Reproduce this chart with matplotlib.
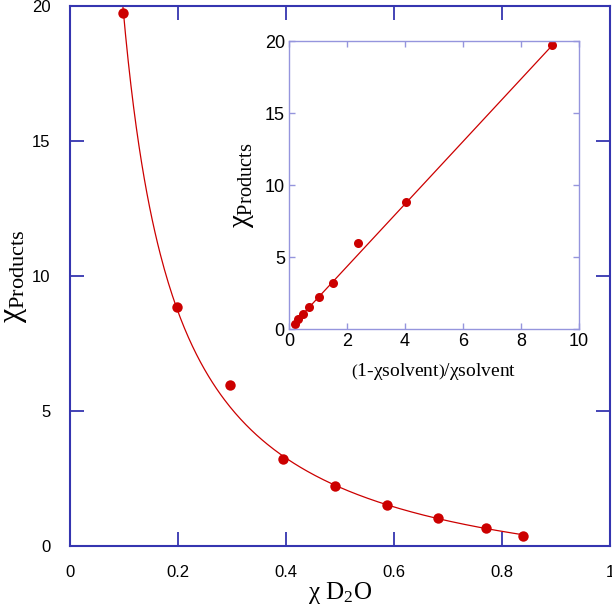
import numpy as np
import matplotlib
matplotlib.use("Agg")
import matplotlib.pyplot as plt

plt.rcParams['font.family'] = ['Liberation Sans', 'DejaVu Sans']
plt.rcParams['mathtext.fontset'] = 'custom'
plt.rcParams['mathtext.rm'] = 'Liberation Serif'
plt.rcParams['mathtext.it'] = 'Liberation Serif'

# mole fraction of D2O vs product ratio
x_d2o = [0.098, 0.198, 0.296, 0.394, 0.491, 0.587, 0.681, 0.770, 0.838]
chi_products = [19.73, 8.84, 5.95, 3.21, 2.22, 1.51, 1.03, 0.66, 0.36]

# inset: (1-x)/x for the same points
ratio_solvent = [9.08, 4.03, 2.38, 1.52, 1.02, 0.70, 0.47, 0.30, 0.19]

# slope of the linear fit through the origin
fit_slope = 2.17

RED = '#cc0000'
BLUE = '#3535b0'
LIGHTBLUE = '#9595dd'

fig = plt.figure(figsize=(6.12, 6.06), dpi=100)
ax = fig.add_axes([70/612, 60/606, 540/612, 540/606])

xs = np.linspace(min(x_d2o), max(x_d2o), 300)
ax.plot(xs, fit_slope*(1 - xs)/xs, color=RED, lw=0.9)
ax.plot(x_d2o, chi_products, 'o', color=RED, ms=7.5, mec='none')

ax.set_xlim(0, 1)
ax.set_ylim(0, 20)
ax.set_xticks([0, 0.2, 0.4, 0.6, 0.8, 1])
ax.set_xticklabels(['0', '0.2', '0.4', '0.6', '0.8', '1'])
ax.set_yticks([0, 5, 10, 15, 20])
ax.tick_params(direction='in', length=10, width=1.3, color=BLUE, labelsize=12,
               top=True, right=True, pad=14)
ax.tick_params(axis='y', pad=14)
for s in ax.spines.values():
    s.set_color(BLUE)
    s.set_linewidth(1.5)
ax.set_xlabel(r'$\chi\ \mathrm{D}_{2}\mathrm{O}$', fontsize=18, labelpad=0)
ax.set_ylabel(r'$\chi_{\mathrm{Products}}$', fontsize=23, labelpad=2)

# inset
axi = fig.add_axes([289/612, 277/606, 290/612, 288/606])
xl = np.linspace(min(ratio_solvent), max(ratio_solvent), 50)
axi.plot(xl, fit_slope*xl, color=RED, lw=0.9)
axi.plot(ratio_solvent, chi_products, 'o', color=RED, ms=6.5, mec='none')
axi.set_xlim(0, 10)
axi.set_ylim(0, 20)
axi.set_xticks([0, 2, 4, 6, 8, 10])
axi.set_yticks([0, 5, 10, 15, 20])
axi.tick_params(direction='in', length=4, width=1, color=LIGHTBLUE, labelsize=13,
                top=True, right=True, pad=3)
for s in axi.spines.values():
    s.set_color(LIGHTBLUE)
    s.set_linewidth(1.0)
axi.set_xlabel(r'$\left(\mathrm{1}\text{-}\chi\mathrm{solvent}\right)/\chi\mathrm{solvent}$',
               fontsize=14, labelpad=8)
axi.set_ylabel(r'$\chi_{\mathrm{Products}}$', fontsize=21, labelpad=6)

fig.savefig('out.png', dpi=100)
